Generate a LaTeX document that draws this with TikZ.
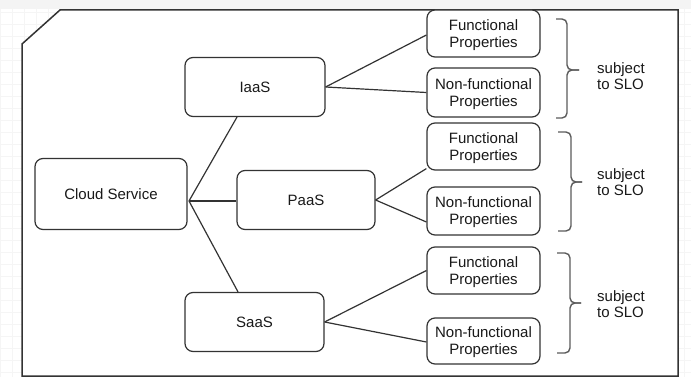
\documentclass[tikz,border=0pt]{standalone}
\usepackage{fontspec}
\setmainfont{Liberation Sans}
\usetikzlibrary{calc}
\definecolor{linecol}{HTML}{333333}
\definecolor{bracecol}{HTML}{5C5C5C}
\definecolor{gridcol}{HTML}{F5F5F5}
\definecolor{stripcol}{HTML}{F4F4F4}
\begin{document}
\begin{tikzpicture}[x=1pt,y=-1pt,
  box/.style={draw=linecol, line width=1.2pt, rounded corners=8pt, fill=white,
    font=\fontsize{15}{17}\selectfont, align=center, inner sep=0pt,
    text=black!90},
  svcbox/.style={box, minimum width=140pt, minimum height=59pt},
  propbox/.style={box, minimum width=113pt, minimum height=47pt, text depth=0pt},
  link/.style={draw=linecol, line width=1.2pt},
  brace/.style={draw=bracecol, line width=1.4pt, rounded corners=5pt},
  slo/.style={font=\fontsize{15}{16}\selectfont, align=left, anchor=west,
    inner sep=0pt, text=black!90}]

% canvas, faint grid and top strip
\useasboundingbox (0,0) rectangle (691,377);
\fill[white] (0,0) rectangle (691,377);
\draw[gridcol, line width=0.6pt] (0,0) grid[step=12pt] (691,377);
\fill[stripcol] (0,0) rectangle (691,9);

% outer frame with cut corner
\draw[linecol, line width=1.5pt, fill=white]
  (60,10) -- (678,10) -- (678,376) -- (22,376) -- (22,44) -- cycle;

% service nodes
\node[box, minimum width=152pt, minimum height=71pt] (cs) at (111,194) {Cloud Service};
\node[svcbox] (iaas) at (255,87) {IaaS};
\node[svcbox, minimum width=138pt] (paas) at (306,200) {PaaS};
\node[svcbox, minimum width=139pt] (saas) at (254.5,322) {SaaS};

% property nodes
\node[propbox] (f1)  at (483.5,33.5)  {Functional\\Properties};
\node[propbox, minimum height=49pt] (nf1) at (483.5,92.5) {Non-functional\\Properties};
\node[propbox] (f2)  at (483.5,146.5) {Functional\\Properties};
\node[propbox, minimum height=48pt] (nf2) at (483.5,211) {Non-functional\\Properties};
\node[propbox] (f3)  at (483.5,270.5) {Functional\\Properties};
\node[propbox, minimum height=46pt] (nf3) at (483.5,341) {Non-functional\\Properties};

% connectors
\coordinate (hub) at (189,201);
\draw[link] (hub) -- ([xshift=-18pt]iaas.south);
\draw[link] (hub) -- (paas.west |- hub);
\draw[link] (hub) -- ([xshift=-16.5pt]saas.north);

\draw[link] (iaas.east) -- ([yshift=-1.5pt]f1.west);
\draw[link] (iaas.east) -- (nf1.west);
\draw[link] (paas.east) -- ([yshift=2pt]f2.south west);
\draw[link] (paas.east) -- ([yshift=-11pt]nf2.west);
\draw[link] (saas.east) -- (f3.west);
\draw[link] (saas.east) -- ([yshift=-1pt]nf3.west);

% braces and SLO labels
\coordinate (b1) at (579,70);
\coordinate (b2) at (582,182);
\coordinate (b3) at (581,303);
\draw[brace] (556,19) -- (567,19) -- (567,70) -- (b1);
\draw[brace] (556,118) -- (567,118) -- (567,70) -- (b1);
\draw[brace] (558,132) -- (571,132) -- (571,182) -- (b2);
\draw[brace] (558,231) -- (571,231) -- (571,182) -- (b2);
\draw[brace] (557,253) -- (570,253) -- (570,303) -- (b3);
\draw[brace] (557,353) -- (570,353) -- (570,303) -- (b3);

\node[slo] (s1) at (597,76)  {subject\\to SLO};
\node[slo] (s2) at (597,182) {subject\\to SLO};
\node[slo] (s3) at (597,304) {subject\\to SLO};
\end{tikzpicture}
\end{document}
